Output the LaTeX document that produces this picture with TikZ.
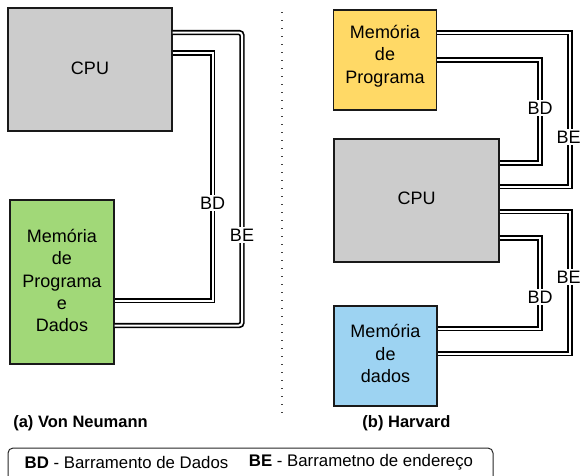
\documentclass[tikz,border=0pt]{standalone}
\usepackage{fontspec}
\setmainfont{Liberation Sans}
\begin{document}
\begin{tikzpicture}[x=1pt,y=-1pt,
  txt/.style={font=\fontsize{18}{22.3}\selectfont},
  unit/.style={draw=black!90, line width=1.3pt, inner sep=0pt},
  unittxt/.style={txt, align=center, inner sep=0pt},
  bus/.style={draw=black, line width=1.7pt, double=white, double distance=2pt},
  buslbl/.style={txt, fill=white, inner sep=1.5pt},
  sep/.style={line width=1.3pt, dash pattern=on 1.3pt off 6.7pt, black!75},
  caption/.style={font=\fontsize{16.5}{20}\selectfont\bfseries},
  legtxt/.style={font=\fontsize{16.8}{20}\selectfont},
  legend/.style={draw=black!85, line width=1pt, rounded corners=5pt}]
\useasboundingbox (0,0) rectangle (580,475);

% (a) Von Neumann
\node[unit, fill=black!20, minimum width=164pt, minimum height=123pt] (cpuA) at (90,69.5) {};
\node[unittxt] (cpuAt) at ([yshift=1.5pt]cpuA.center) {CPU};
\node[unit, fill={rgb,255:red,161;green,216;blue,120}, minimum width=104pt, minimum height=164pt] (memA) at (62,282) {};
\node[unittxt] (memAt) at ([yshift=1.5pt]memA.center) {Memória\\de\\Programa\\e\\Dados};
\draw[bus, rounded corners=3pt] (cpuA.east |- 0,32.5) -| (242,325.5) -- (memA.east |- 0,325.5);
\draw[bus] (cpuA.east |- 0,53) -| (212.5,300.5) -- (memA.east |- 0,300.5);
\node[buslbl] (bdA) at (212.5,203) {BD};
\node[buslbl] (beA) at (242,235) {BE};

% separator
\draw[sep] (282,12) -- (282,418);

% (b) Harvard
\node[unit, fill={rgb,255:red,255;green,217;blue,102}, minimum width=103pt, minimum height=100pt] (progB) at (385,60) {};
\node[unittxt] (progBt) at ([yshift=4pt]progB.center) {Memória\\de\\Programa};
\node[unit, fill=black!20, minimum width=165pt, minimum height=123pt] (cpuB) at (416.5,200.5) {};
\node[unittxt] (cpuBt) at ([yshift=2pt]cpuB.center) {CPU};
\node[unit, fill={rgb,255:red,157;green,211;blue,242}, minimum width=103pt, minimum height=100pt] (dataB) at (385.5,356) {};
\node[unittxt] (dataBt) at ([yshift=2.5pt]dataB.center) {Memória\\de\\dados};

\draw[bus] (progB.east |- 0,32.5) -| (570,186.5) -- (cpuB.east |- 0,186.5);
\draw[bus] (progB.east |- 0,60) -| (540,163) -- (cpuB.east |- 0,163);
\draw[bus] (cpuB.east |- 0,211.5) -| (570,353.5) -- (dataB.east |- 0,353.5);
\draw[bus] (cpuB.east |- 0,238) -| (540,328.5) -- (dataB.east |- 0,328.5);
\node[buslbl] (bdB1) at (540,108) {BD};
\node[buslbl] (beB1) at (568.5,137) {BE};
\node[buslbl] (beB2) at (568.5,277) {BE};
\node[buslbl] (bdB2) at (540,297) {BD};

% captions
\node[caption] (capA) at (80.5,423) {(a) Von Neumann};
\node[caption] (capB) at (406.5,423) {(b) Harvard};

% legend
\draw[legend] (8,448) rectangle (493,484);
\node[legtxt] (legBD) at (126.5,462) {\textbf{BD} - Barramento de Dados};
\node[legtxt] (legBE) at (361,462) {\textbf{BE} - Barrametno de endereço};
\end{tikzpicture}
\end{document}
